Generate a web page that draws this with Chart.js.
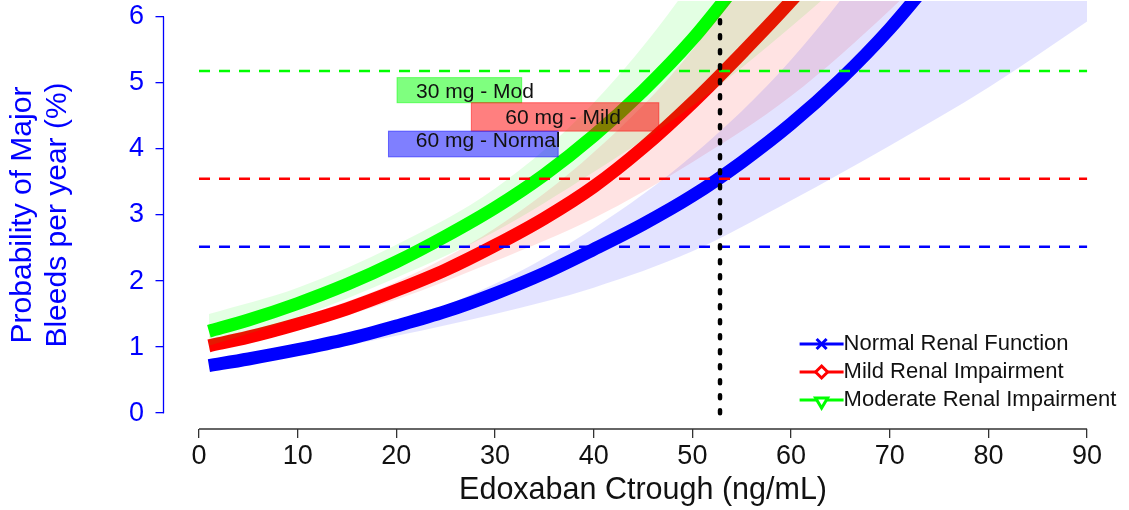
<!DOCTYPE html>
<html><head><meta charset="utf-8">
<script src="https://cdn.jsdelivr.net/npm/chart.js@4.4.1/dist/chart.umd.min.js"></script>
<style>html,body{margin:0;padding:0;background:#fff}canvas{display:block}</style>
</head><body>
<canvas id="c" width="1129" height="510"></canvas>
<script>
// ---- data ----
const xTicks = [0,10,20,30,40,50,60,70,80,90];
const yTicks = [0,1,2,3,4,5,6];
const seriesNames = ['Normal Renal Function','Mild Renal Impairment','Moderate Renal Impairment'];
const curveX = [1,5,10,15,20,25,30,35,40,45,50,55,60,65,70,75];
const normalRate = [0.72,0.82,0.96,1.12,1.32,1.54,1.81,2.12,2.48,2.86,3.29,3.80,4.38,5.05,5.82,6.71];
const mildRate   = [1.02,1.15,1.35,1.58,1.86,2.17,2.54,2.95,3.43,4.02,4.70,5.45,6.24,7.10,null,null];
const modRate    = [1.24,1.41,1.66,1.95,2.29,2.68,3.11,3.61,4.20,4.88,5.66,6.58,null,null,null,null];
const bandX = [1,10,20,30,40,50,60,70,80,90];
const normalLow  = [0.66,0.88,1.17,1.50,1.90,2.45,3.22,4.05,4.93,5.93];
const normalHigh = [0.78,1.00,1.37,1.96,2.80,3.90,5.35,7.30,9.90,13.3];
const mildLow    = [0.94,1.26,1.72,2.30,2.95,3.80,4.80,6.10,7.60,9.50];
const mildHigh   = [1.12,1.45,1.99,2.80,3.95,5.50,7.70,10.5,14.0,18.0];
const modLow     = [1.02,1.45,2.05,2.75,3.65,4.65,5.85,7.20,8.80,10.5];
const modHigh    = [1.50,1.90,2.55,3.40,4.70,6.55,9.00,12.0,16.0,21.0];
const refRates = [2.52, 3.55, 5.18];      // normal, mild, moderate reference rates
const refSpan = [0, 90];
const ctroughRef = 52.8;
const refVertY = [0, 6];
const boxLabels = ['30 mg - Mod','60 mg - Mild','60 mg - Normal'];

// ---- styles ----
const FONT = '"Liberation Sans", Arial, sans-serif';
const colors = ['#0000FF','#FF0000','#00FF00'];
const bandColors = ['rgba(0,0,255,0.11)','rgba(255,0,0,0.11)','rgba(0,255,0,0.11)'];
const boxColors = ['rgba(0,255,0,0.5)','rgba(255,0,0,0.5)','rgba(0,0,255,0.5)'];
const markers = ['x','diamond','tri'];
// annotation placement in data units
const boxPlace = [
  {x0:20.07,x1:32.7,y0:4.70,y1:5.08,tx:27.97,ty:4.86},
  {x0:27.6,x1:46.6,y0:4.27,y1:4.70,tx:36.9,ty:4.47},
  {x0:19.2,x1:36.4,y0:3.88,y1:4.27,tx:29.3,ty:4.12}
];

const pts = (xs, ys) => xs.map((x,i)=>({x, y: ys[i]}));

const datasets = [];
const rates = [normalRate, mildRate, modRate];
const lows = [normalLow, mildLow, modLow];
const highs = [normalHigh, mildHigh, modHigh];
rates.forEach((r,i)=>{
  datasets.push({label: seriesNames[i], data: pts(curveX, r), borderColor: colors[i], borderWidth: 13,
    pointRadius: 0, fill: false, cubicInterpolationMode: 'monotone', borderCapStyle: 'butt', borderJoinStyle:'round',
    order: 10, legendMarker: markers[i], legendColor: colors[i]});
});
lows.forEach((lo,i)=>{
  datasets.push({label: seriesNames[i]+' lo', data: pts(bandX, lo), borderColor: 'rgba(0,0,0,0)', borderWidth: 0,
    pointRadius: 0, fill: false, cubicInterpolationMode: 'monotone', order: 5});
  datasets.push({label: seriesNames[i]+' hi', data: pts(bandX, highs[i]), borderColor: 'rgba(0,0,0,0)', borderWidth: 0,
    pointRadius: 0, fill: '-1', backgroundColor: bandColors[i], cubicInterpolationMode: 'monotone', order: 5});
});
refRates.forEach((v,i)=>{
  datasets.push({label: 'ref'+i, data: refSpan.map(x=>({x, y: v})), borderColor: colors[i], borderWidth: 2.5,
    borderDash: [11,9], pointRadius: 0, fill: false, tension: 0, order: 2});
});
datasets.push({label: 'ctrough', data: refVertY.map(y=>({x: ctroughRef, y})), borderColor: '#000', borderWidth: 4.5,
  borderDash: [3,12], borderCapStyle: 'round', pointRadius: 0, fill: false, tension: 0, order: 1});

const rPlugin = {
  id: 'rStyle',
  afterDatasetsDraw(chart) {
    const {ctx, chartArea, scales: {x, y}} = chart;
    ctx.save();
    ctx.lineWidth = 1.3;
    ctx.strokeStyle = '#0000FF';
    ctx.beginPath();
    ctx.moveTo(chartArea.left, y.getPixelForValue(yTicks[0]));
    ctx.lineTo(chartArea.left, y.getPixelForValue(yTicks[yTicks.length-1]));
    ctx.stroke();
    ctx.strokeStyle = '#333';
    ctx.beginPath();
    ctx.moveTo(x.getPixelForValue(xTicks[0]), chartArea.bottom);
    ctx.lineTo(x.getPixelForValue(xTicks[xTicks.length-1]), chartArea.bottom);
    ctx.stroke();
    ctx.font = '21px ' + FONT;
    ctx.textAlign = 'center';
    ctx.textBaseline = 'middle';
    boxPlace.forEach((b,i)=>{
      const px0 = x.getPixelForValue(b.x0), px1 = x.getPixelForValue(b.x1);
      const py0 = y.getPixelForValue(b.y1), py1 = y.getPixelForValue(b.y0);
      ctx.fillStyle = boxColors[i];
      ctx.fillRect(px0, py0, px1-px0, py1-py0);
      ctx.strokeStyle = boxColors[i];
      ctx.lineWidth = 1;
      ctx.strokeRect(px0, py0, px1-px0, py1-py0);
    });
    boxPlace.forEach((b,i)=>{
      ctx.fillStyle = '#111';
      ctx.fillText(boxLabels[i], x.getPixelForValue(b.tx), y.getPixelForValue(b.ty));
    });
    ctx.restore();
  },
  afterDraw(chart) {
    const {ctx, chartArea} = chart;
    const items = chart.data.datasets.filter(d=>d.legendMarker);
    const textX = chartArea.right - 279;
    const row0 = chartArea.bottom - 85;
    ctx.save();
    items.forEach((d,i)=>{
      const yy = row0 + i*28;
      ctx.strokeStyle = d.legendColor;
      ctx.lineWidth = 3;
      ctx.beginPath(); ctx.moveTo(textX-44, yy); ctx.lineTo(textX, yy); ctx.stroke();
      const mx = textX - 22;
      if (d.legendMarker === 'x') {
        ctx.beginPath();
        ctx.moveTo(mx-5, yy-5); ctx.lineTo(mx+5, yy+5);
        ctx.moveTo(mx-5, yy+5); ctx.lineTo(mx+5, yy-5);
        ctx.stroke();
      } else if (d.legendMarker === 'diamond') {
        ctx.beginPath();
        ctx.moveTo(mx, yy-6); ctx.lineTo(mx+6, yy); ctx.lineTo(mx, yy+6); ctx.lineTo(mx-6, yy); ctx.closePath();
        ctx.fillStyle = '#fff'; ctx.fill(); ctx.stroke();
      } else {
        ctx.beginPath();
        ctx.moveTo(mx-6, yy-2); ctx.lineTo(mx+6, yy-2); ctx.lineTo(mx, yy+8); ctx.closePath();
        ctx.fillStyle = '#fff'; ctx.fill(); ctx.stroke();
      }
      ctx.fillStyle = '#111';
      ctx.font = '22px ' + FONT;
      ctx.textAlign = 'left';
      ctx.textBaseline = 'middle';
      ctx.fillText(d.label, textX, yy);
    });
    ctx.restore();
  }
};

new Chart(document.getElementById('c'), {
  type: 'line',
  data: { datasets },
  options: {
    responsive: false,
    animation: false,
    events: [],
    layout: { padding: { top: 1, right: 6.4, left: 0, bottom: 0 } },
    plugins: { legend: { display: false }, tooltip: { enabled: false } },
    scales: {
      x: {
        type: 'linear', min: -3.6, max: 93.6,
        afterBuildTicks: s => { s.ticks = xTicks.map(v=>({value: v})); },
        afterFit: s => { s.height = 81; s.paddingLeft = 0; s.paddingRight = 0; },
        grid: { display: true, drawOnChartArea: false, drawTicks: true, tickLength: 9, color: '#333', lineWidth: 1.3 },
        border: { display: false },
        ticks: { autoSkip: false, maxRotation: 0, padding: 2, color: '#111', font: { family: FONT, size: 27 } },
        title: { display: true, text: 'Edoxaban Ctrough (ng/mL)', color: '#111', font: { family: FONT, size: 30.5 }, padding: { top: 0, bottom: 1 } }
      },
      y: {
        type: 'linear', min: -0.24, max: 6.24,
        afterBuildTicks: s => { s.ticks = yTicks.map(v=>({value: v})); },
        afterFit: s => { s.width = 163.5; s.paddingTop = 0; s.paddingBottom = 0; },
        grid: { display: true, drawOnChartArea: false, drawTicks: true, tickLength: 8, color: '#0000FF', lineWidth: 1.3 },
        border: { display: false },
        ticks: { autoSkip: false, padding: 11.5, color: '#0000FF', font: { family: FONT, size: 27 } },
        title: { display: true, text: ['Probability of Major','Bleeds per year (%)'], color: '#0000FF',
          font: { family: FONT, size: 30, lineHeight: 1.17 }, padding: { top: 5.5, bottom: 0 } }
      }
    }
  },
  plugins: [rPlugin]
});
</script>
</body></html>
